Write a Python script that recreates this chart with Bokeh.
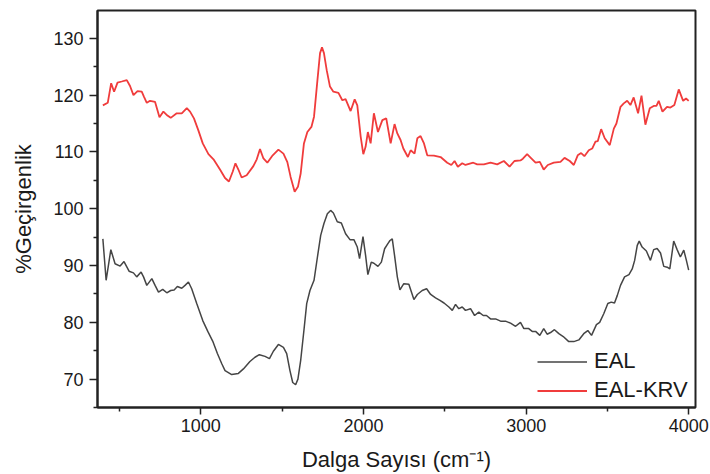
from bokeh.plotting import figure
from bokeh.models import FixedTicker, Legend, LegendItem, Range1d
from bokeh.embed import file_html
from bokeh.resources import INLINE

# FTIR transmittance spectra: wavenumber (cm^-1) vs % transmittance
eal_wn = [398, 418, 447, 473, 504, 528, 559, 586, 606, 633, 648, 668, 699, 719, 740,
          766, 791, 815, 836, 856, 883, 903, 924, 944, 975, 1012, 1043, 1073, 1102,
          1129, 1149, 1190, 1231, 1262, 1302, 1333, 1360, 1395, 1422, 1446, 1477,
          1508, 1528, 1548, 1565, 1583, 1597, 1614, 1634, 1651, 1671, 1696, 1717,
          1737, 1757, 1778, 1798, 1815, 1839, 1864, 1890, 1917, 1941, 1962, 1976,
          1997, 2013, 2027, 2048, 2064, 2089, 2110, 2130, 2150, 2163, 2177, 2191,
          2208, 2224, 2248, 2279, 2310, 2331, 2361, 2388, 2413, 2443, 2470, 2495,
          2525, 2546, 2566, 2586, 2607, 2627, 2658, 2683, 2709, 2736, 2756, 2781,
          2812, 2843, 2873, 2904, 2935, 2965, 2986, 3016, 3037, 3058, 3084, 3108,
          3129, 3150, 3174, 3201, 3228, 3262, 3293, 3324, 3354, 3379, 3402, 3432,
          3452, 3477, 3502, 3523, 3543, 3560, 3580, 3605, 3632, 3652, 3667, 3683,
          3695, 3713, 3739, 3764, 3784, 3805, 3826, 3846, 3867, 3883, 3907, 3928,
          3948, 3969, 3985, 3999]
eal_t = [94.7, 87.4, 92.8, 90.3, 89.9, 90.7, 89.0, 88.7, 88.0, 88.85, 88.0, 86.5, 87.7,
         86.5, 85.3, 85.8, 85.2, 85.6, 85.7, 86.3, 86.0, 86.5, 87.1, 85.9, 83.3, 80.3,
         78.4, 76.7, 74.5, 72.7, 71.5, 70.8, 71.0, 71.8, 73.1, 73.85, 74.3, 74.0, 73.6,
         74.9, 76.1, 75.6, 74.5, 71.5, 69.4, 69.0, 70.0, 73.3, 78.6, 83.3, 85.6, 87.4,
         91.5, 95.3, 97.4, 99.1, 99.7, 99.25, 97.7, 97.5, 95.6, 94.55, 94.55, 93.25,
         91.2, 95.1, 91.8, 88.4, 90.6, 90.4, 89.85, 90.6, 92.95, 93.85, 94.4, 94.7,
         91.8, 88.0, 85.7, 86.8, 86.7, 84.0, 84.9, 85.6, 85.9, 84.9, 84.3, 83.85, 83.4,
         82.7, 82.1, 83.15, 82.4, 82.7, 82.1, 82.4, 81.2, 81.8, 81.2, 81.2, 80.6, 80.6,
         80.2, 80.2, 79.85, 79.3, 80.0, 78.9, 78.9, 78.4, 78.4, 77.7, 78.9, 77.9, 78.2,
         78.7, 78.0, 77.5, 76.6, 76.6, 76.9, 78.0, 78.55, 77.7, 79.6, 80.0, 81.5, 83.3,
         83.55, 83.4, 84.7, 86.5, 88.0, 88.4, 89.4, 90.9, 93.55, 94.3, 93.25, 92.55,
         90.9, 92.8, 93.0, 92.2, 89.85, 89.7, 89.4, 94.3, 92.8, 91.5, 92.7, 90.9, 89.2]

krv_wn = [398, 428, 449, 467, 488, 514, 545, 565, 586, 611, 637, 651, 668, 688, 719,
          746, 770, 795, 815, 852, 883, 914, 934, 958, 985, 1012, 1047, 1078, 1118,
          1149, 1173, 1196, 1213, 1231, 1251, 1282, 1323, 1344, 1364, 1385, 1409,
          1442, 1477, 1508, 1532, 1552, 1577, 1597, 1614, 1634, 1655, 1680, 1696,
          1717, 1733, 1745, 1757, 1774, 1794, 1815, 1846, 1870, 1890, 1921, 1946,
          1962, 1983, 1999, 2013, 2027, 2044, 2064, 2089, 2116, 2140, 2167, 2191,
          2208, 2228, 2245, 2273, 2290, 2314, 2331, 2351, 2372, 2392, 2433, 2474,
          2515, 2540, 2560, 2580, 2607, 2627, 2675, 2699, 2740, 2781, 2822, 2863,
          2898, 2928, 2965, 2980, 3006, 3027, 3058, 3084, 3108, 3133, 3170, 3211,
          3236, 3268, 3293, 3317, 3338, 3358, 3385, 3406, 3426, 3440, 3461, 3483,
          3514, 3539, 3555, 3580, 3600, 3621, 3641, 3661, 3688, 3709, 3733, 3760,
          3784, 3801, 3815, 3838, 3866, 3887, 3911, 3938, 3965, 3983, 3999]
krv_t = [118.2, 118.65, 122.1, 120.6, 122.2, 122.4, 122.65, 121.6, 120.0, 120.7, 120.6,
         119.7, 118.65, 119.0, 118.8, 116.1, 117.1, 116.4, 116.0, 116.8, 116.8, 117.7,
         117.1, 115.9, 113.8, 111.5, 109.6, 108.7, 106.9, 105.4, 104.8, 106.5, 108.0,
         106.9, 105.5, 105.9, 107.5, 108.7, 110.5, 108.85, 108.1, 109.4, 110.4, 109.7,
         108.2, 105.6, 103.0, 103.85, 106.2, 111.5, 113.5, 114.4, 116.2, 122.65, 127.4,
         128.4, 127.4, 124.4, 121.5, 120.6, 120.4, 119.1, 119.3, 117.2, 119.25, 118.2,
         112.65, 109.6, 110.9, 113.5, 111.5, 116.8, 113.5, 115.6, 115.9, 111.5, 114.9,
         113.25, 112.1, 110.6, 109.1, 110.3, 109.7, 112.4, 112.8, 111.5, 109.4, 109.35,
         109.1, 108.1, 107.7, 108.4, 107.4, 108.0, 107.7, 108.1, 107.8, 107.8, 108.1,
         107.8, 108.4, 107.4, 108.4, 108.5, 108.8, 109.6, 109.0, 108.1, 108.25, 106.9,
         107.7, 108.1, 108.25, 108.95, 108.4, 107.7, 109.4, 109.8, 109.25, 110.3, 110.6,
         111.8, 111.9, 114.0, 112.4, 111.2, 114.1, 115.0, 117.95, 118.55, 119.0, 118.25,
         119.6, 116.8, 119.9, 114.8, 117.7, 118.1, 118.1, 119.0, 117.1, 117.95, 117.8,
         118.25, 121.0, 119.0, 119.4, 119.0]

x_major = [1000, 2000, 3000, 4000]
x_minor = [500, 1500, 2500, 3500]
y_major = [70, 80, 90, 100, 110, 120, 130]
y_minor = [65, 75, 85, 95, 105, 115, 125, 135]

FONT = "Liberation Sans"

p = figure(width=710, height=474, output_backend="svg", toolbar_location=None,
           x_range=Range1d(365, 4041), y_range=Range1d(65, 134.9),
           min_border_left=97, min_border_right=15, min_border_top=10,
           min_border_bottom=67)

p.grid.visible = False
p.background_fill_color = "white"
p.border_fill_color = "white"
p.outline_line_color = "#222222"
p.outline_line_width = 2

r_eal = p.line(eal_wn, eal_t, line_color="#454545", line_width=1.5)
r_krv = p.line(krv_wn, krv_t, line_color="#f03c3c", line_width=1.8)

for ax in (p.xaxis[0], p.yaxis[0]):
    ax.axis_line_color = "#222222"
    ax.axis_line_width = 2
    ax.major_tick_line_color = "#222222"
    ax.minor_tick_line_color = "#222222"
    ax.major_tick_line_width = 1.5
    ax.minor_tick_line_width = 1.5
    ax.major_tick_in = 0
    ax.minor_tick_in = 0
    ax.major_label_text_font = FONT
    ax.major_label_text_font_size = "18px"
    ax.major_label_text_color = "#1a1a1a"
    ax.axis_label_text_font = FONT
    ax.axis_label_text_font_size = "22px"
    ax.axis_label_text_font_style = "normal"
    ax.axis_label_text_color = "#1a1a1a"

p.xaxis.ticker = FixedTicker(ticks=x_major, minor_ticks=x_minor)
p.yaxis.ticker = FixedTicker(ticks=y_major, minor_ticks=y_minor)
p.xaxis.major_tick_out = 7
p.xaxis.minor_tick_out = 4
p.yaxis.major_tick_out = 8
p.yaxis.minor_tick_out = 4
p.xaxis.major_label_standoff = 4
p.yaxis.major_label_standoff = 6
p.xaxis.axis_label = "Dalga Sayısı (cm⁻¹)"
p.yaxis.axis_label = "%Geçirgenlik"
p.xaxis.axis_label_standoff = 12
p.yaxis.axis_label_standoff = 14

legend = Legend(items=[LegendItem(label="EAL", renderers=[r_eal]),
                       LegendItem(label="EAL-KRV", renderers=[r_krv])],
                location=(440, 4), padding=0, margin=0, spacing=3,
                glyph_width=50, glyph_height=23, label_height=23,
                label_standoff=7, border_line_color=None,
                background_fill_alpha=0,
                label_text_font=FONT, label_text_font_size="22px",
                label_text_color="#1a1a1a")
p.add_layout(legend)

open("out.html", "w").write(file_html(p, INLINE))
